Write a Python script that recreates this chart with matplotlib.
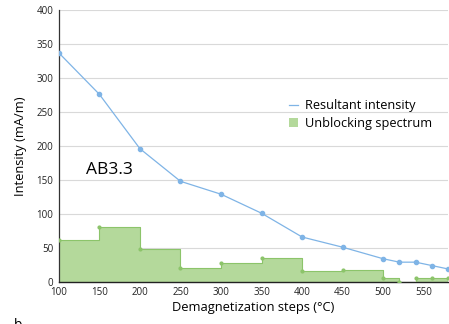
import matplotlib.pyplot as plt
from matplotlib.lines import Line2D
from matplotlib.patches import Patch

# Demagnetization steps (°C)
steps = [100, 150, 200, 250, 300, 350, 400, 450, 500, 520, 540, 560, 580]
# Resultant intensity (mA/m)
resultant = [337, 276, 196, 148, 129, 101, 66, 51, 34, 29, 29, 24, 19]
# Unblocking spectrum (mA/m), held until the next step
unblocking = [61, 81, 48, 20, 28, 35, 16, 18, 6, 0, 6, 6, 6]

xticks = [100, 150, 200, 250, 300, 350, 400, 450, 500, 550]
yticks = [0, 50, 100, 150, 200, 250, 300, 350, 400]

plt.rcParams['font.family'] = ['Open Sans', 'DejaVu Sans']

fig = plt.figure(figsize=(4.49, 3.24), dpi=100)
ax = fig.add_axes([0.131, 0.130, 0.867, 0.839])

green = "#b4d99b"
green_edge = "#8cc46a"
blue = "#7fb4e6"

ax.fill_between(steps, unblocking, step="post", color=green, lw=0, zorder=2)
ax.plot(steps, unblocking, drawstyle="steps-post", color=green_edge, lw=0.8, zorder=3)
ax.plot(steps, unblocking, "o", color=green_edge, ms=2, zorder=3)
ax.plot(steps, resultant, "-o", color=blue, lw=0.9, ms=3, zorder=4)

ax.set_xlim(100, 580)
ax.set_ylim(0, 400)
ax.set_xticks(xticks)
ax.set_yticks(yticks)
ax.tick_params(length=0, labelsize=7, colors="#222222", pad=4)
ax.grid(axis="y", color="#d9d9d9", lw=0.8, zorder=0)
ax.set_axisbelow(True)
for s in ["top", "right"]:
    ax.spines[s].set_visible(False)
ax.spines["left"].set_color("#333333")
ax.spines["bottom"].set_color("#222222")
ax.spines["left"].set_linewidth(0.9)
ax.spines["bottom"].set_linewidth(1.0)

ax.set_xlabel("Demagnetization steps (°C)", fontsize=9.3, labelpad=2)
ax.set_ylabel("Intensity (mA/m)", fontsize=9.3, labelpad=7)

ax.text(163, 165, "AB3.3", fontsize=12.5, ha="center", va="center")

handles = [Line2D([], [], color=blue, lw=0.9),
           Patch(facecolor=green, edgecolor="none")]
ax.legend(handles, ["Resultant intensity", "Unblocking spectrum"],
          loc="upper left", bbox_to_anchor=(0.563, 0.715),
          frameon=False, fontsize=9.2, handlelength=0.7, handleheight=0.7,
          handletextpad=0.5, labelspacing=0.4)

fig.text(0.03, -0.015, "b", fontsize=10)

plt.savefig("out.png", dpi=100)
